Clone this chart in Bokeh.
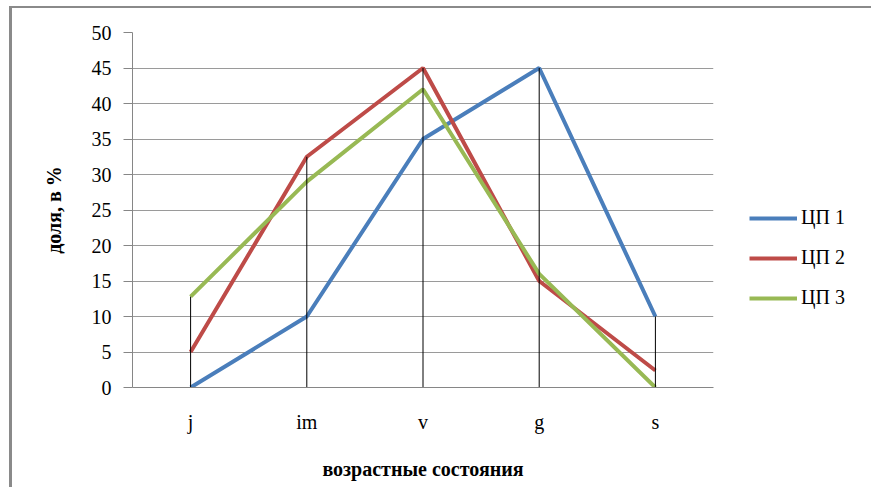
from bokeh.plotting import figure
from bokeh.models import FactorRange, Range1d, FixedTicker, Legend, LegendItem
from bokeh.embed import file_html
from bokeh.resources import INLINE

# ---- data ----
categories = ["j", "im", "v", "g", "s"]
series_names = ["ЦП 1", "ЦП 2", "ЦП 3"]
cp1 = [0, 10, 35, 45, 10]
cp2 = [5, 32.5, 45, 15, 2.4]
cp3 = [12.8, 29, 42, 16, 0]
y_ticks = [0, 5, 10, 15, 20, 25, 30, 35, 40, 45, 50]
x_title = "возрастные состояния"
y_title = "доля, в %"

colors = ["#4a7ebb", "#be4b48", "#98b954"]
FONT = "Liberation Serif"

p = figure(x_range=FactorRange(*categories, range_padding=0), y_range=Range1d(0, 50),
           frame_width=581, frame_height=355, output_backend="svg", toolbar_location=None,
           min_border_left=120, min_border_top=24, min_border_right=136, min_border_bottom=100)
p.styles = {"border-top": "2px solid #8a8a8a", "border-left": "3px solid #8a8a8a",
            "margin-top": "6px", "margin-left": "9px"}
p.outline_line_color = None
p.background_fill_color = "white"
p.border_fill_color = "white"

renderers = []
for ys, c in zip([cp1, cp2, cp3], colors):
    r = p.line(categories, ys, line_color=c, line_width=4)
    renderers.append(r)

# drop lines from the highest value to zero
tops = [max(a, b, c) for a, b, c in zip(cp1, cp2, cp3)]
p.segment(x0=categories, y0=[0] * len(categories), x1=categories, y1=tops,
          line_color="black", line_width=1)

# axes
p.yaxis.ticker = FixedTicker(ticks=y_ticks)
p.yaxis.axis_line_color = "#868686"
p.yaxis.major_tick_line_color = "#868686"
p.yaxis.major_tick_out = 9
p.yaxis.major_tick_in = 0
p.yaxis.minor_tick_line_color = None
p.yaxis.major_label_text_font = FONT
p.yaxis.major_label_text_font_size = "20px"
p.yaxis.major_label_text_color = "black"
p.yaxis.major_label_standoff = 12
p.yaxis.axis_label = y_title
p.yaxis.axis_label_text_font = FONT
p.yaxis.axis_label_text_font_size = "20px"
p.yaxis.axis_label_text_font_style = "bold"
p.yaxis.axis_label_text_color = "black"
p.yaxis.axis_label_standoff = 24

p.xaxis.axis_line_color = "#868686"
p.xaxis.major_tick_out = 0
p.xaxis.major_tick_in = 0
p.xaxis.major_label_text_font = FONT
p.xaxis.major_label_text_font_size = "20px"
p.xaxis.major_label_text_color = "black"
p.xaxis.major_label_standoff = 23
p.xaxis.axis_label = x_title
p.xaxis.axis_label_text_font = FONT
p.xaxis.axis_label_text_font_size = "20px"
p.xaxis.axis_label_text_font_style = "bold"
p.xaxis.axis_label_text_color = "black"
p.xaxis.axis_label_standoff = 22

p.xgrid.grid_line_color = None
p.ygrid.ticker = FixedTicker(ticks=y_ticks)
p.ygrid.grid_line_color = "#9a9a9a"
p.ygrid.grid_line_width = 1

legend = Legend(items=[LegendItem(label=n, renderers=[r]) for n, r in zip(series_names, renderers)],
                location=(36, 78), padding=0, margin=0, spacing=17,
                glyph_width=48, glyph_height=20, label_height=20, label_standoff=4,
                border_line_color=None, background_fill_alpha=0,
                label_text_font=FONT, label_text_font_size="20px", label_text_color="black")
p.add_layout(legend, "right")

open("out.html", "w").write(file_html(p, INLINE))
